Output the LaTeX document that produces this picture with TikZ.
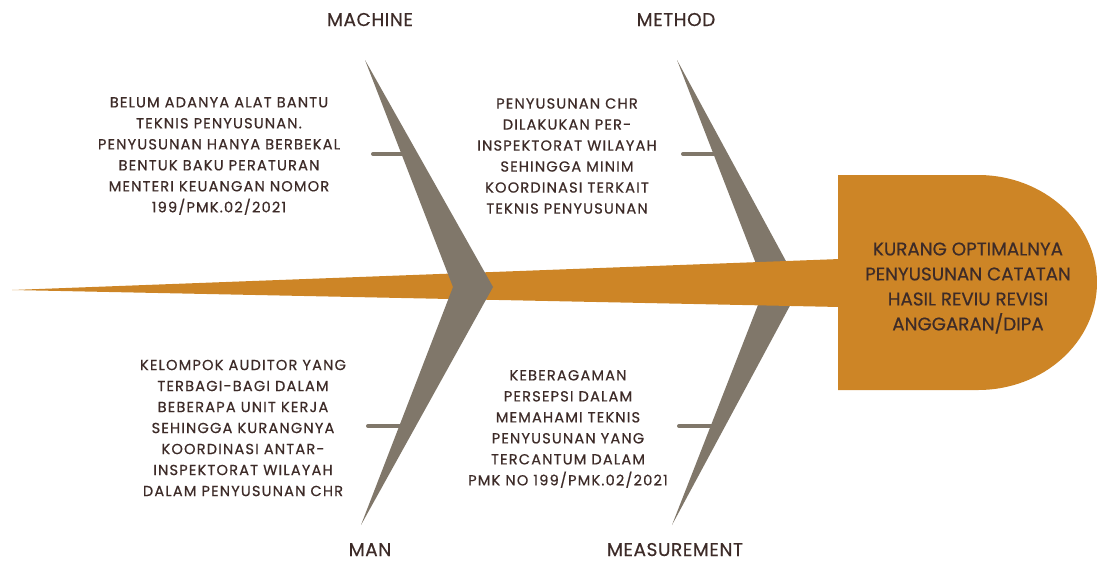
\documentclass[tikz,border=0pt]{standalone}
\usepackage{fontspec}
\setmainfont{Poppins}[FakeBold=0.5]
\newfontfamily\widefont{Poppins}[FakeBold=0.6, LetterSpace=8]
\newfontfamily\labelfont{Poppins}[FakeBold=0.5, LetterSpace=3]
\definecolor{spine}{HTML}{CD8526}
\definecolor{bone}{HTML}{80776A}
\definecolor{ink}{HTML}{3D2B28}
\tikzset{
  cause/.style={align=center, text=ink, inner sep=0pt,
    font=\widefont\fontsize{14.6}{21}\selectfont},
  category/.style={text=ink, inner sep=0pt, anchor=base,
    font=\labelfont\fontsize{18.5}{20}\selectfont},
  effect/.style={align=center, text=ink, inner sep=0pt,
    font=\fontsize{18.3}{25}\selectfont},
  tick/.style={draw=bone, line width=4pt, line cap=round},
}
\begin{document}
\begin{tikzpicture}[x=1pt, y=-1pt]
\useasboundingbox (0,0) rectangle (1097,562);

% right-hand bone pair (passes under the spine)
\fill[bone] (677,60) -- (800,287) -- (672,525) -- (765,287) -- cycle;

% tapered spine
\fill[spine] (12,290) -- (840,259) -- (840,307) -- cycle;

% left-hand bone pair (sits on top of the spine)
\fill[bone] (365,60) -- (493,287) -- (361,525) -- (453,287) -- cycle;

% fish head
\fill[spine] (838,175) -- (978,175)
  arc[start angle=90, end angle=-90, x radius=119pt, y radius=107.5pt]
  -- (838,390) -- cycle;

% small branch ticks
\coordinate (t1a) at (373,154); \coordinate (t1b) at (404,154);
\coordinate (t2a) at (683,154); \coordinate (t2b) at (715,154);
\coordinate (t3a) at (368,426); \coordinate (t3b) at (401,426);
\coordinate (t4a) at (679,426); \coordinate (t4b) at (712,426);
\draw[tick] (t1a) -- (t1b);
\draw[tick] (t2a) -- (t2b);
\draw[tick] (t3a) -- (t3b);
\draw[tick] (t4a) -- (t4b);

% category labels
\node[category] (machine) at (370,26) {MACHINE};
\node[category] (method) at (676,26) {METHOD};
\node[category] (man) at (370,556) {MAN};
\node[category] (measurement) at (675,556) {MEASUREMENT};

% causes
\node[cause] (c1) at (219,156) {BELUM ADANYA ALAT BANTU\\TEKNIS PENYUSUNAN.\\PENYUSUNAN HANYA BERBEKAL\\BENTUK BAKU PERATURAN\\MENTERI KEUANGAN NOMOR\\199/PMK.02/2021};
\node[cause] (c2) at (567,156) {PENYUSUNAN CHR\\DILAKUKAN PER-\\INSPEKTORAT WILAYAH\\SEHINGGA MINIM\\KOORDINASI TERKAIT\\TEKNIS PENYUSUNAN};
\node[cause] (c3) at (243,428) {KELOMPOK AUDITOR YANG\\TERBAGI-BAGI DALAM\\BEBERAPA UNIT KERJA\\SEHINGGA KURANGNYA\\KOORDINASI ANTAR-\\INSPEKTORAT WILAYAH\\DALAM PENYUSUNAN CHR};
\node[cause] (c4) at (568,429) {KEBERAGAMAN\\PERSEPSI DALAM\\MEMAHAMI TEKNIS\\PENYUSUNAN YANG\\TERCANTUM DALAM\\PMK NO 199/PMK.02/2021};

% effect
\node[effect] (effect) at (968,288) {KURANG OPTIMALNYA\\PENYUSUNAN CATATAN\\HASIL REVIU REVISI\\ANGGARAN/DIPA};
\end{tikzpicture}
\end{document}
